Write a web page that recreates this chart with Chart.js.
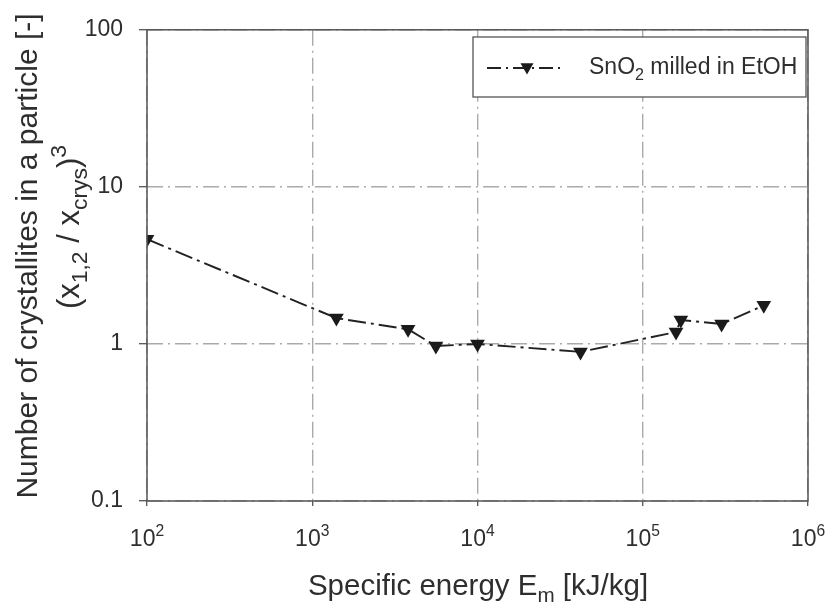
<!DOCTYPE html>
<html>
<head>
<meta charset="utf-8">
<script src="https://cdn.jsdelivr.net/npm/chart.js@4.4.1/dist/chart.umd.min.js"></script>
<style>
  body { margin: 0; background: #fff; }
  canvas { display: block; }
</style>
</head>
<body>
<canvas id="chart" width="829" height="615"></canvas>
<script>
// Data
const energy = [100, 1400, 3800, 5600, 10000, 42000, 159000, 170000, 300000, 540000]; // kJ/kg
const crystallites = [4.64, 1.46, 1.24, 0.97, 1.0, 0.89, 1.19, 1.42, 1.34, 1.76];
const seriesLabel = 'SnO2 milled in EtOH';
const xTicks = [1e2, 1e3, 1e4, 1e5, 1e6];
const xTickExp = ['2', '3', '4', '5', '6'];
const yTicks = [0.1, 1, 10, 100];
const yTickLabels = ['0.1', '1', '10', '100'];

const FONT = '"Liberation Sans", Arial, sans-serif';
const TEXT = '#2e2e2e';
const AXIS = '#555';
const GRID = '#aaaaaa';
const GRID_DASH = [16, 5, 2, 5];
const LINE_DASH = [18, 5, 3, 5];

// draw text pieces with sub/superscripts, centred on x, baseline y
function richText(ctx, parts, x, y, size, ratio) {
  const small = size * (ratio || 0.7);
  let w = 0;
  parts.forEach(p => {
    ctx.font = (p.k ? small : size) + 'px ' + FONT;
    p.w = ctx.measureText(p.t).width;
    w += p.w;
  });
  let cx = x - w / 2;
  ctx.textAlign = 'left';
  ctx.textBaseline = 'alphabetic';
  parts.forEach(p => {
    ctx.font = (p.k ? small : size) + 'px ' + FONT;
    let dy = 0;
    if (p.k === 'sub') dy = size * 0.25;
    if (p.k === 'sup') dy = -size * 0.42;
    ctx.fillText(p.t, cx, y + dy);
    cx += p.w;
  });
  return w;
}

function triangleDown(ctx, x, y, r) {
  ctx.beginPath();
  ctx.moveTo(x, y + r);
  ctx.lineTo(x - r * Math.sqrt(3) / 2, y - r / 2);
  ctx.lineTo(x + r * Math.sqrt(3) / 2, y - r / 2);
  ctx.closePath();
  ctx.fill();
}

const decor = {
  id: 'decor',
  afterDraw(chart) {
    const ctx = chart.ctx;
    const a = chart.chartArea;
    const xs = chart.scales.x;
    ctx.save();

    // legend box
    const lx = 473, ly = 37, lw = 333, lh = 60;
    ctx.fillStyle = '#fff';
    ctx.fillRect(lx, ly, lw, lh);
    ctx.strokeStyle = AXIS;
    ctx.lineWidth = 1.3;
    ctx.strokeRect(lx, ly, lw, lh);
    ctx.strokeStyle = '#222';
    ctx.lineWidth = 1.8;
    ctx.setLineDash([14, 5, 2, 5]);
    ctx.beginPath();
    ctx.moveTo(lx + 14, ly + 31);
    ctx.lineTo(lx + 92, ly + 31);
    ctx.stroke();
    ctx.setLineDash([]);
    ctx.fillStyle = '#1a1a1a';
    triangleDown(ctx, lx + 54, ly + 30, 7.5);
    ctx.fillStyle = TEXT;
    const parts = [{t: 'SnO'}, {t: '2', k: 'sub'}, {t: ' milled in EtOH'}];
    let w = 0;
    parts.forEach(p => { ctx.font = (p.k ? 23 * 0.7 : 23) + 'px ' + FONT; w += ctx.measureText(p.t).width; });
    richText(ctx, parts, lx + 116 + w / 2, ly + 37, 23);

    // plot frame
    ctx.strokeStyle = AXIS;
    ctx.lineWidth = 1.5;
    ctx.strokeRect(a.left, a.top, a.right - a.left, a.bottom - a.top);

    // x tick labels with exponents
    ctx.fillStyle = TEXT;
    xTicks.forEach((v, i) => {
      const px = xs.getPixelForValue(v);
      richText(ctx, [{t: '10'}, {t: xTickExp[i], k: 'sup'}], px, 546, 23, 0.68);
    });

    // x title
    richText(ctx, [{t: 'Specific energy E'}, {t: 'm', k: 'sub'}, {t: ' [kJ/kg]'}], 478, 595, 29.5);

    // y title, two rotated lines
    ctx.save();
    ctx.translate(37, 256);
    ctx.rotate(-Math.PI / 2);
    richText(ctx, [{t: 'Number of crystallites in a particle [-]'}], 0, 0, 30);
    ctx.restore();
    ctx.save();
    ctx.translate(79, 227);
    ctx.rotate(-Math.PI / 2);
    richText(ctx, [{t: '(x'}, {t: '1,2', k: 'sub'}, {t: ' / x'}, {t: 'crys', k: 'sub'}, {t: ')'}, {t: '3', k: 'sup'}], 0, 0, 31, 0.74);
    ctx.restore();

    ctx.restore();
  }
};

new Chart(document.getElementById('chart'), {
  type: 'scatter',
  data: {
    datasets: [{
      label: seriesLabel,
      data: energy.map((e, i) => ({x: e, y: crystallites[i]})),
      showLine: true,
      borderColor: '#222',
      borderWidth: 1.9,
      borderDash: LINE_DASH,
      backgroundColor: '#1a1a1a',
      pointStyle: 'triangle',
      rotation: 180,
      pointRadius: 8.5,
      pointBorderWidth: 0,
      pointHoverRadius: 8.5
    }]
  },
  options: {
    responsive: false,
    animation: false,
    layout: { padding: { left: 0, top: 24, right: 21, bottom: 0 } },
    plugins: { legend: { display: false }, tooltip: { enabled: false } },
    scales: {
      x: {
        type: 'logarithmic',
        min: 100,
        max: 1e6,
        afterBuildTicks: s => { s.ticks = xTicks.map(v => ({value: v})); },
        afterFit: s => { s.height = 114; },
        ticks: { display: false },
        grid: { color: GRID, lineWidth: 1.4, tickColor: AXIS, tickLength: 5, tickWidth: 1.3, tickBorderDash: [] },
        border: { display: false, dash: GRID_DASH }
      },
      y: {
        type: 'logarithmic',
        min: 0.1,
        max: 100,
        afterBuildTicks: s => { s.ticks = yTicks.map(v => ({value: v})); },
        afterFit: s => { s.width = 147; },
        ticks: {
          callback: (v, i) => yTickLabels[i],
          font: { family: FONT, size: 23 },
          color: TEXT,
          padding: 16
        },
        grid: { color: GRID, lineWidth: 1.4, tickColor: AXIS, tickLength: 8, tickWidth: 1.3, tickBorderDash: [] },
        border: { display: false, dash: GRID_DASH }
      }
    }
  },
  plugins: [decor]
});
</script>
</body>
</html>
